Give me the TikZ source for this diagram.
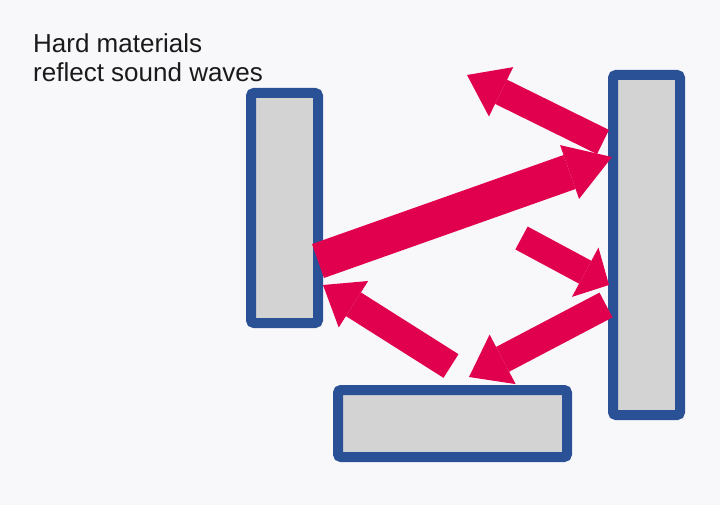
\documentclass[tikz,border=0pt]{standalone}
\usepackage{fontspec}
\setmainfont{Liberation Sans}
\usetikzlibrary{arrows.meta}
\definecolor{bgc}{HTML}{F8F8FA}
\definecolor{wallblue}{HTML}{2A5196}
\definecolor{wallfill}{HTML}{D3D3D3}
\definecolor{wavered}{HTML}{E0004E}
\definecolor{textc}{HTML}{1A1A1A}
\tikzset{
  wall/.style={draw=wallblue, line width=10pt, fill=wallfill, rounded corners=3pt, inner sep=0pt},
  wave/.style={draw=wavered, line width=#1, line cap=butt},
  whead/.style 2 args={-{Triangle[width=#1,length=#2,line width=0pt]}},
}
\begin{document}
\begin{tikzpicture}[x=1pt,y=-1pt]
\fill[bgc] (0,0) rectangle (720,505);
\useasboundingbox (0,0) rectangle (720,505);

\node[anchor=base west, align=left, inner sep=0pt, text=textc,
      font=\fontsize{26}{29}\selectfont] (title) at (33,82) {Hard materials\\reflect sound waves};

\node[wall, minimum width=67pt, minimum height=230pt] (L) at (284.5,208) {};
\node[wall, minimum width=67pt, minimum height=340pt] (R) at (646.5,245) {};
\node[wall, minimum width=229pt, minimum height=67pt] (B) at (452.5,423.5) {};

\coordinate (a1s) at (318,261);  \coordinate (a1e) at (612,157);
\coordinate (a2s) at (603,142);  \coordinate (a2e) at (467,75);
\coordinate (a3s) at (521.5,238); \coordinate (a3e) at (609,285);
\coordinate (a4s) at (606,305);  \coordinate (a4e) at (469,377);
\coordinate (a5s) at (451,366);  \coordinate (a5e) at (323,285);

\draw[wave=36pt, whead={57pt}{45pt}] (a1s) -- (a1e);
\draw[wave=27pt, whead={55pt}{38pt}] (a2s) -- (a2e);
\draw[wave=26pt, whead={56pt}{27pt}] (a3s) -- (a3e);
\draw[wave=28pt, whead={56pt}{38pt}] (a4s) -- (a4e);
\draw[wave=28pt, whead={55pt}{36pt}] (a5s) -- (a5e);
\end{tikzpicture}
\end{document}
